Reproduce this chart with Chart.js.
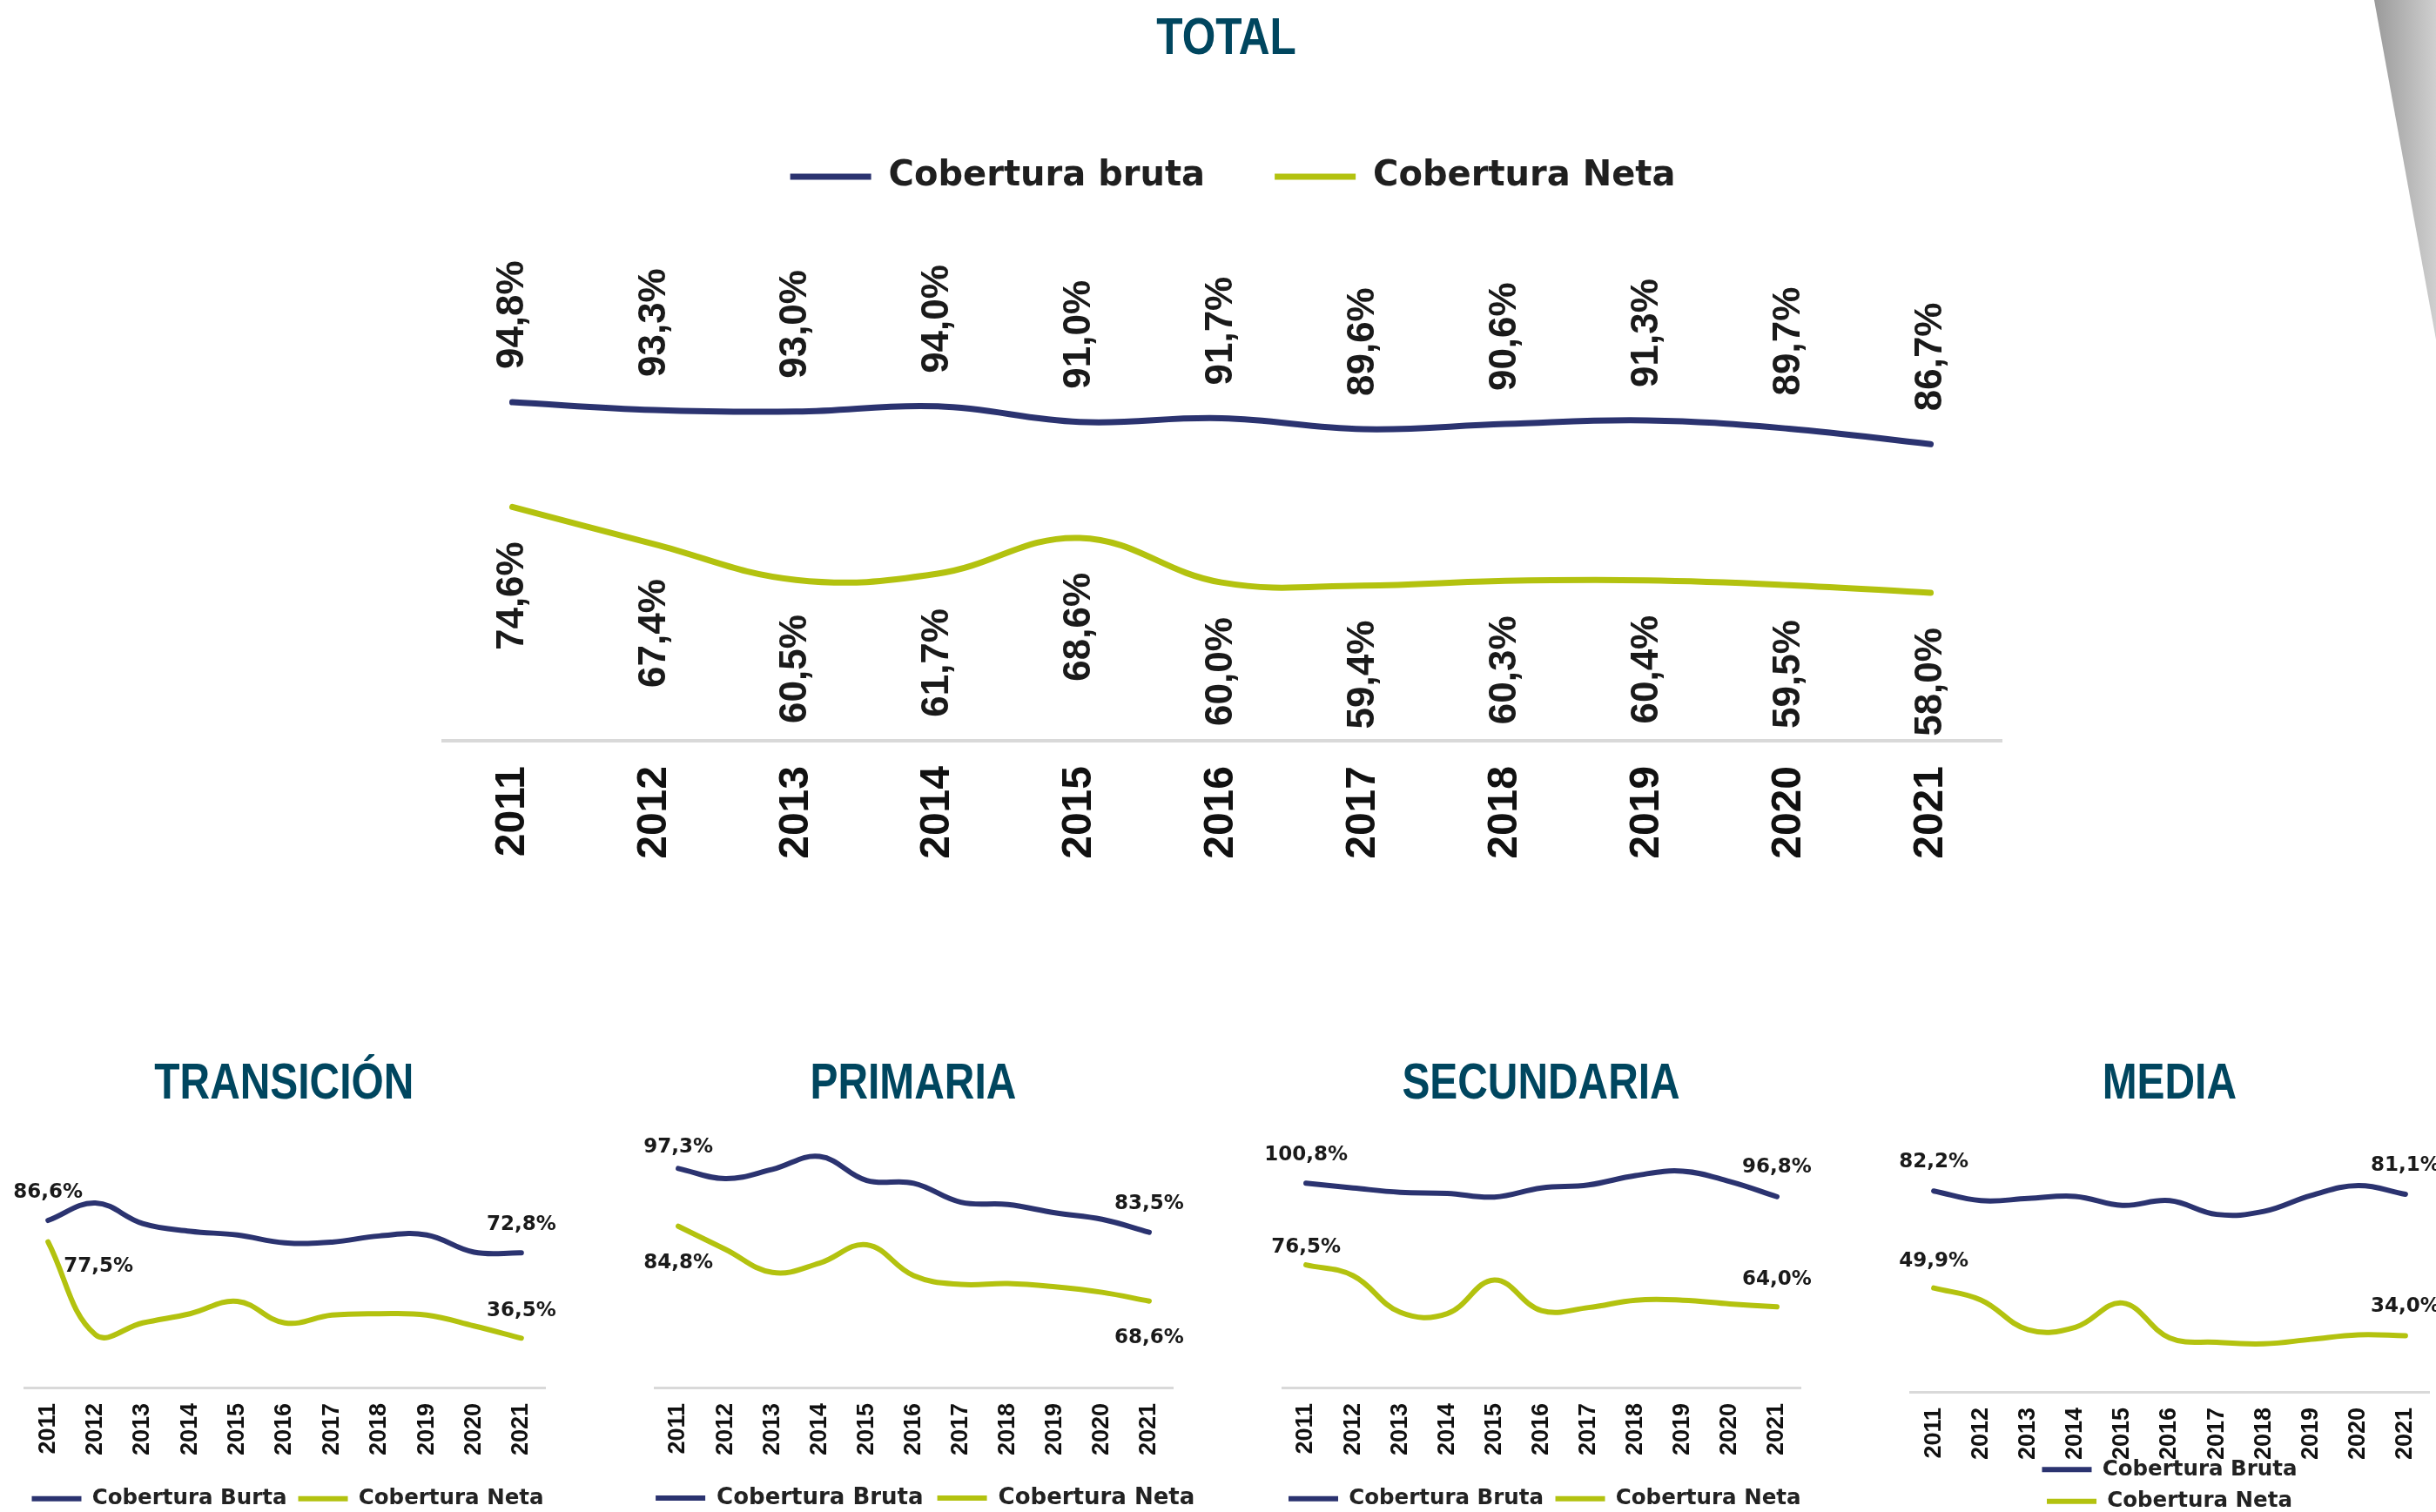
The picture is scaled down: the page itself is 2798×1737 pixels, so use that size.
<!DOCTYPE html>
<html><head><meta charset="utf-8">
<script src="https://cdn.jsdelivr.net/npm/chart.js@4.4.1/dist/chart.umd.min.js"></script>
<style>
html,body{margin:0;padding:0;background:#fff;}
body{width:2798px;height:1737px;overflow:hidden;position:relative;}
canvas{position:absolute;}
.ttl{position:absolute;width:600px;text-align:center;font-family:"Liberation Sans",Arial,sans-serif;font-weight:bold;color:#00465f;line-height:1;white-space:nowrap;}
.ttl span{display:inline-block;transform:scaleX(0.84);transform-origin:50% 50%;}
.deco{position:absolute;left:2727px;top:0;width:71px;height:390px;background:linear-gradient(to right,#9a9a9a,#cfcfcf);clip-path:polygon(0 0,100% 0,100% 100%);}
</style></head>
<body>
<div class="deco"></div>
<div class="ttl" style="left:1109px;top:13px;font-size:59px"><span>TOTAL</span></div>
<div class="ttl" style="left:26px;top:1214px;font-size:57px"><span>TRANSICIÓN</span></div>
<div class="ttl" style="left:749px;top:1214px;font-size:57px"><span>PRIMARIA</span></div>
<div class="ttl" style="left:1470px;top:1214px;font-size:57px"><span>SECUNDARIA</span></div>
<div class="ttl" style="left:2192px;top:1214px;font-size:57px"><span>MEDIA</span></div>

<canvas id="cTotal" width="1818" height="888" style="left:507px;top:103px"></canvas>
<canvas id="cTrans" width="700" height="444" style="left:0px;top:1300px"></canvas>
<canvas id="cPrim" width="720" height="444" style="left:700px;top:1300px"></canvas>
<canvas id="cSec" width="720" height="444" style="left:1420px;top:1300px"></canvas>
<canvas id="cMed" width="658" height="447" style="left:2140px;top:1300px"></canvas>

<script>
// ---------- DATA ----------
const years = ['2011','2012','2013','2014','2015','2016','2017','2018','2019','2020','2021'];

const totalBruta = [94.8, 93.3, 93.0, 94.0, 91.0, 91.7, 89.6, 90.6, 91.3, 89.7, 86.7];
const totalNeta  = [74.6, 67.4, 60.5, 61.7, 68.6, 60.0, 59.4, 60.3, 60.4, 59.5, 58.0];

const transBruta = [86.6, 94.0, 85.3, 82.0, 80.4, 77.1, 77.4, 80.0, 80.4, 73.1, 72.8];
const transNeta  = [77.5, 38.0, 43.0, 46.9, 52.2, 43.0, 46.3, 46.9, 46.3, 41.7, 36.5];

const primBruta = [97.3, 95.1, 97.1, 99.9, 94.7, 94.1, 90.0, 89.5, 87.7, 86.3, 83.5];
const primNeta  = [84.8, 79.8, 74.8, 76.8, 80.8, 74.1, 72.2, 72.4, 71.7, 70.5, 68.6];

const secBruta = [100.8, 99.4, 98.1, 97.8, 96.7, 99.4, 100.3, 103.1, 104.4, 101.3, 96.8];
const secNeta  = [76.5, 73.3, 62.4, 62.0, 72.0, 62.9, 63.8, 66.0, 66.0, 64.9, 64.0];

const medBruta = [82.2, 79.0, 79.7, 80.4, 77.4, 79.0, 74.4, 75.4, 80.7, 84.0, 81.1];
const medNeta  = [49.9, 45.9, 36.0, 36.8, 44.9, 33.3, 31.8, 31.3, 32.8, 34.3, 34.0];

const legendTotal = ['Cobertura bruta', 'Cobertura Neta'];
const legendTrans = ['Cobertura Burta', 'Cobertura Neta'];
const legendOther = ['Cobertura Bruta', 'Cobertura Neta'];

// ---------- STYLE ----------
const C_BRUTA = '#2b3370';
const C_NETA = '#b3c20f';
const fmt = v => v.toFixed(1).replace('.', ',') + '%';

const valueLabels = {
  id: 'valueLabels',
  afterDatasetsDraw(chart, args, opts) {
    const ctx = chart.ctx;
    (opts.items || []).forEach(it => {
      const el = chart.getDatasetMeta(it.ds).data[it.i];
      if (!el) return;
      const text = fmt(chart.data.datasets[it.ds].data[it.i]);
      ctx.save();
      ctx.font = opts.font;
      ctx.fillStyle = opts.color;
      if (opts.rotate) {
        ctx.translate(el.x, el.y + it.dy);
        ctx.rotate(-Math.PI / 2);
        ctx.textAlign = it.dy < 0 ? 'left' : 'right';
        ctx.textBaseline = 'middle';
        ctx.fillText(text, 0, 0);
      } else {
        const cap = opts.size * 0.729;
        let x = el.x, y, align = 'center';
        if (it.mode === 'above') y = el.y - it.gap;
        else if (it.mode === 'below') y = el.y + it.gap + cap;
        else { x = el.x + it.dx; y = el.y + it.gap + cap / 2; align = 'left'; }
        ctx.textAlign = align;
        ctx.textBaseline = 'alphabetic';
        ctx.fillText(text, x, y);
      }
      ctx.restore();
    });
  }
};

const legendItems = chart => Chart.defaults.plugins.legend.labels.generateLabels(chart)
  .map(l => Object.assign(l, {fillStyle: l.strokeStyle, lineWidth: 0}));

function ds(label, data, color, width) {
  return {label, data, borderColor: color, backgroundColor: color, borderWidth: width,
    tension: 0.4, pointRadius: 0, pointHoverRadius: 0, fill: false,
    borderCapStyle: 'round', borderJoinStyle: 'round'};
}

// ---------- TOTAL ----------
const totalItems = [];
years.forEach((y, i) => { totalItems.push({ds: 0, i, dy: -38}); totalItems.push({ds: 1, i, dy: 40}); });

new Chart(document.getElementById('cTotal'), {
  type: 'line',
  data: {labels: years, datasets: [ds(legendTotal[0], totalBruta, C_BRUTA, 7), ds(legendTotal[1], totalNeta, C_NETA, 7)]},
  options: {
    responsive: false, animation: false, devicePixelRatio: 1,
    layout: {padding: 0, autoPadding: false},
    plugins: {
      legend: {position: 'top', labels: {boxWidth: 93, boxHeight: 7, padding: 80, color: '#1f1f1f',
        font: {family: 'DejaVu Sans', size: 40, weight: 'bold'}, generateLabels: legendItems}},
      tooltip: {enabled: false},
      valueLabels: {items: totalItems, rotate: true, font: 'bold 44px "Liberation Sans"', size: 44, color: '#1a1a1a'}
    },
    scales: {
      x: {offset: true, grid: {display: false, drawTicks: true, tickLength: 27},
        border: {display: true, color: '#d9d9d9', width: 4},
        ticks: {minRotation: 90, maxRotation: 90, padding: 2, autoSkip: false, color: '#111',
          font: {family: 'Liberation Sans', size: 48, weight: 'bold', lineHeight: 1}},
        afterFit: s => { s.height = 140; }},
      y: {position: 'right', min: 29.44, max: 133.3, ticks: {display: false}, grid: {display: false},
        border: {display: false}, afterFit: s => { s.width = 26; }}
    }
  },
  plugins: [valueLabels]
});

// ---------- SMALL CHARTS ----------
function spacer(pos, w) {
  return {position: pos, display: true, ticks: {display: false}, grid: {display: false},
    border: {display: false}, afterFit: s => { s.width = w; }};
}

function small(id, legend, bruta, neta, cfg) {
  const scales = {
    x: {offset: true, grid: {display: false, drawTicks: true, tickLength: 16},
      border: {display: true, color: '#d9d9d9', width: 3},
      ticks: {minRotation: 90, maxRotation: 90, padding: 2, autoSkip: false, color: '#111',
        font: {family: 'Liberation Sans', size: 27, weight: 'bold', lineHeight: 1}},
      afterFit: s => { s.height = cfg.axisH; s._computeLabelArea = () => undefined; }}
  };
  if (cfg.leftW > 0) scales.y = Object.assign(spacer('left', cfg.leftW), {min: cfg.min, max: cfg.max});
  else scales.y = {display: false, min: cfg.min, max: cfg.max};
  if (cfg.rightW > 0) scales.y2 = spacer('right', cfg.rightW);

  new Chart(document.getElementById(id), {
    type: 'line',
    data: {labels: years, datasets: [ds(legend[0], bruta, C_BRUTA, 6), ds(legend[1], neta, C_NETA, 6)]},
    options: {
      responsive: false, animation: false, devicePixelRatio: 1,
      layout: {padding: {left: cfg.padL, right: cfg.padR, top: 0, bottom: 0}, autoPadding: false},
      plugins: {
        legend: {position: 'bottom', labels: {boxWidth: 57, boxHeight: 6, padding: cfg.legPad, color: '#222',
          font: {family: 'DejaVu Sans', size: cfg.legFont, weight: 'bold'}, generateLabels: legendItems}},
        tooltip: {enabled: false},
        valueLabels: {items: cfg.labels, rotate: false, font: 'bold 23px "DejaVu Sans"', size: 23, color: '#1a1a1a'}
      },
      scales
    },
    plugins: [valueLabels]
  });
}

small('cTrans', legendTrans, transBruta, transNeta, {min: 15.5, max: 124.4,
  padL: 10.5, leftW: 17.5, rightW: 24.5, padR: 49.5, legPad: 13, legFont: 24.5, axisH: 102.5,
  labels: [{ds: 0, i: 0, mode: 'above', gap: 26}, {ds: 0, i: 10, mode: 'above', gap: 26},
           {ds: 1, i: 0, mode: 'right', dx: 18, gap: 26}, {ds: 1, i: 10, mode: 'above', gap: 25}]});

small('cPrim', legendOther, primBruta, primNeta, {min: 49.9, max: 105.27,
  padL: 22.7, leftW: 29.3, rightW: 55.7, padR: 17.3, legPad: 16, legFont: 26, axisH: 98,
  labels: [{ds: 0, i: 0, mode: 'above', gap: 18}, {ds: 0, i: 10, mode: 'above', gap: 27},
           {ds: 1, i: 0, mode: 'below', gap: 32}, {ds: 1, i: 10, mode: 'below', gap: 32}]});

small('cSec', legendOther, secBruta, secNeta, {min: 40.0, max: 116.17,
  padL: 34.25, leftW: 18.75, rightW: 26.25, padR: 45.75, legPad: 13.5, legFont: 24.5, axisH: 102,
  labels: [{ds: 0, i: 0, mode: 'above', gap: 26}, {ds: 0, i: 10, mode: 'above', gap: 28},
           {ds: 1, i: 0, mode: 'above', gap: 14}, {ds: 1, i: 10, mode: 'above', gap: 25}]});

small('cMed', legendOther, medBruta, medNeta, {min: 15.3, max: 101.97,
  padL: 54, leftW: 0, rightW: 0, padR: 8, legPad: 12, legFont: 24.5, axisH: 65,
  labels: [{ds: 0, i: 0, mode: 'above', gap: 27}, {ds: 0, i: 10, mode: 'above', gap: 27},
           {ds: 1, i: 0, mode: 'above', gap: 25}, {ds: 1, i: 10, mode: 'above', gap: 27}]});
</script>
</body></html>
